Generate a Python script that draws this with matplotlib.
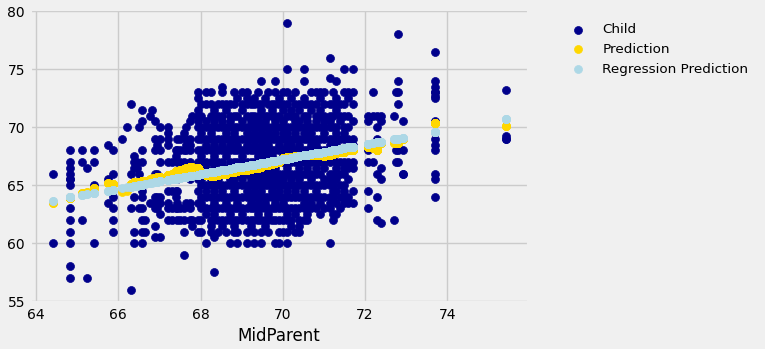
import matplotlib
matplotlib.use("Agg")
import matplotlib.pyplot as plt

# Galton heights: midparent height per family column, children heights
midparent = [64.4, 64.83, 65.12, 65.24, 65.4, 65.75, 65.87, 66.1, 66.2, 66.3,
             66.38, 66.45, 66.5, 66.57, 66.65, 66.76, 66.82, 66.9, 66.95, 67.02,
             67.2, 67.3, 67.4, 67.43, 67.5, 67.6, 67.65, 67.75, 67.8, 67.94,
             68.02, 68.14, 68.25, 68.33, 68.42, 68.53, 68.62, 68.72, 68.82, 68.9,
             69.0, 69.13, 69.22, 69.3, 69.4, 69.47, 69.56, 69.65, 69.73, 69.82,
             69.9, 70.0, 70.1, 70.2, 70.3, 70.4, 70.52, 70.6, 70.7, 70.8,
             70.9, 71.0, 71.15, 71.22, 71.3, 71.4, 71.5, 71.6, 71.7,
             72.08, 72.2, 72.3, 72.4, 72.7, 72.75, 72.8, 72.92, 73.7, 75.43]

child_heights = [
    [66, 60],
    [68, 67, 66.5, 66, 65.5, 65.5, 65, 63, 62, 61, 60, 58, 57],
    [68, 67, 62],
    [66.5, 57],
    [68, 67, 65, 60],
    [68.5, 65.5, 63.5],
    [68, 66, 64, 63, 62, 61],
    [69],
    [70],
    [72, 66, 63, 56],
    [67.5, 67, 66.5, 64, 61, 60],
    [67, 66.5],
    [70, 66, 63],
    [71.5, 70.5, 68, 67, 64.5, 64, 63, 62, 61, 60],
    [62, 61],
    [71, 63.5],
    [71.5],
    [70.5, 69, 68, 66, 64, 63.5, 63, 61.5, 60.5],
    [68.5, 66, 64, 63],
    [70, 69, 68, 67, 64, 63.5, 62.5, 60.5],
    [70, 69.5, 69, 68.5, 67, 65.5, 64.5, 63.5, 63, 62],
    [67, 64.5, 63, 62],
    [68, 67.5, 64.5, 64, 63],
    [69, 68, 67, 65.5, 64.5, 63.5, 63, 62],
    [69, 68, 67, 63, 62],
    [69.5, 68, 67, 63, 62, 61, 59],
    [70, 69, 68.5, 68, 63.5],
    [70.5, 69, 68.5, 68, 67, 65.5, 63.5, 63, 62],
    [71, 62, 61.5],
    [73, 72.5, 71.5, 71, 70.5, 70, 69, 68, 67, 65.5, 64.5, 63.5, 62, 61],
    [72, 71, 70, 69.5, 69, 68, 67.5, 67, 66, 65.5, 65, 64, 63.5, 63, 62, 61],
    [73, 72, 70.5, 70, 69, 68.5, 68, 67, 66.5, 66, 65, 64.5, 64, 63, 62.5, 60],
    [73, 72, 71, 70, 69.5, 69, 68, 67, 66, 65.5, 65, 64, 63, 62, 61.5, 61],
    [71.5, 70.5, 70, 69, 68.5, 67.5, 67, 66.5, 66, 65, 64.5, 63.5, 62.5, 62, 60.5, 57.5],
    [72, 71, 70, 69, 68, 67, 66, 65.5, 65, 64, 63, 62, 61],
    [73.5, 73, 72, 71, 70.5, 70, 69, 68.5, 68, 67, 66, 65, 64.5, 64, 63, 62, 61.5],
    [72, 71.5, 70, 69.5, 69, 68, 67.5, 66.5, 66, 65, 64, 63.5, 63, 62, 61],
    [72, 71, 70.5, 70, 69, 68.5, 68, 67, 66, 65.5, 65, 64, 63, 62.5, 62, 60],
    [73, 72, 71, 70, 69.5, 69, 68, 67, 66.5, 65.5, 65, 64.5, 64, 63, 62, 61.5, 61],
    [72.5, 71, 70, 69, 68.5, 68, 67, 66, 65, 64, 63.5, 63, 62, 61, 60],
    [73, 72, 71.5, 70.5, 70, 69, 68, 67.5, 67, 66, 65.5, 65, 64, 63, 62.5, 62],
    [73, 72.5, 72, 71, 70, 69.5, 69, 68.5, 68, 67, 66.5, 66, 65, 64.5, 64, 63, 62, 61, 60],
    [72, 71, 70.5, 70, 69, 68, 67, 66, 65.5, 65, 64, 63.5, 63, 62, 61.5],
    [72.5, 72, 71, 70, 69.5, 69, 68.5, 68, 67, 66.5, 66, 65, 64.5, 64, 63, 62, 61, 60],
    [73, 72, 71, 70.5, 70, 69, 68, 67.5, 67, 66, 65.5, 65, 64, 63.5, 63, 62.5, 62],
    [74, 72, 71.5, 70, 69.5, 69, 68.5, 68, 67, 66, 65.5, 65, 64.5, 64, 63, 62, 61, 60],
    [72.5, 71, 70.5, 70, 69, 68, 67.5, 67, 66.5, 66, 65, 64, 63.5, 63, 62, 61.5],
    [73, 72, 71, 70, 69.5, 69, 68.5, 68, 67, 66.5, 65.5, 65, 64, 63, 62.5, 62, 61],
    [72, 71.5, 71, 70, 69, 68, 67.5, 67, 66, 65.5, 65, 64.5, 64, 63, 62],
    [74, 73, 72, 71, 70.5, 70, 69.5, 69, 68, 67, 66.5, 66, 65, 64, 63.5, 63, 62, 60],
    [72.5, 72, 71, 70, 69, 68.5, 68, 67, 66, 65.5, 65, 64.5, 64, 63, 62, 61, 60],
    [73, 72, 71.5, 70.5, 70, 69.5, 69, 68, 67.5, 67, 66, 65.5, 65, 64, 63.5, 63, 62, 61],
    [79, 75, 73, 72, 71, 70, 69.5, 69, 68.5, 68, 67, 66.5, 66, 65, 64.5, 64, 63, 62.5, 62, 61, 60],
    [72.5, 71.5, 71, 70, 69, 68.5, 68, 67, 66, 65.5, 65, 64, 63, 62, 61.5],
    [73, 72, 71, 70.5, 70, 69.5, 69, 68, 67.5, 67, 66, 65, 64.5, 64, 63, 62.5, 61],
    [72, 71.5, 70.5, 70, 69, 68.5, 68, 67, 66.5, 66, 65.5, 65, 64, 63, 62, 61.5, 61],
    [75, 74, 72.5, 72, 71, 70, 69.5, 69, 68, 67.5, 67, 66, 65, 64.5, 64, 63.5, 63, 62],
    [72, 71, 70.5, 70, 69, 68, 67, 66.5, 66, 65, 64, 63, 62.5, 62],
    [73, 72, 71.5, 70, 69.5, 69, 68.5, 68, 67, 66, 65.5, 65, 64, 63.5, 63],
    [73, 72, 71, 70.5, 70, 69, 68.5, 68, 67, 66.5, 66, 65, 64.5, 64, 63],
    [73, 72.5, 71.5, 71, 70, 69, 68, 67.5, 67, 66, 65, 64, 63.5, 62.5],
    [73, 72, 71, 70.5, 70, 69.5, 69, 68, 67, 66.5, 65.5, 65, 64, 63],
    [76, 74.2, 72, 71, 70.5, 70, 69, 68.5, 68, 67, 66, 65.5, 65, 64, 63.5, 63, 60],
    [73, 72, 71, 70, 69, 68, 67.5, 66, 65, 64.5, 64, 62.5, 62],
    [74, 72.5, 71.5, 70, 69.5, 68.5, 68, 67, 66.5, 65.5, 64.5, 63.5, 62.5],
    [72, 71, 70.5, 69, 68, 67, 66, 65, 64, 63],
    [75, 73, 72, 71, 70, 69.5, 69, 68, 67, 66.5, 66, 65, 64.5, 64, 63.5],
    [73, 72.5, 71, 70, 69, 68, 67, 66.5, 65.5, 64, 63.5],
    [75, 73, 72, 70.5, 69, 68.5, 67, 66.5, 64.5, 63.5],
    [71, 70.5, 68, 67, 64.5, 63],
    [73, 71, 67],
    [71, 70, 69, 68, 66, 64, 62],
    [71, 70.5, 66.5, 65.5, 61.7],
    [71, 62],
    [73, 69, 68, 67],
    [78, 74, 73, 72, 68, 67],
    [70.5, 68, 66, 66],
    [76.5, 74, 73.5, 73, 73, 72.7, 72.5, 70.5, 69, 68.5, 68, 66, 65.5, 64],
    [73.2, 69.2, 69, 69],
]

# gold dots: average child height of families with nearby midparent
prediction = [63.5, 63.9, 64.3, 64.4, 64.8, 65.2, 65.1, 64.4, 64.5, 65.1,
              65.3, 65.3, 65.3, 65.4, 65.4, 65.5, 65.6, 65.6, 65.7, 65.7,
              65.9, 66.0, 66.2, 66.2, 66.3, 66.4, 66.5, 66.6, 66.6, 66.5,
              66.1, 65.9, 65.8, 65.8, 65.9, 66.0, 66.0, 66.1, 66.1, 66.2,
              66.3, 66.3, 66.4, 66.5, 66.5, 66.6, 66.7, 66.7, 66.8, 66.9,
              67.0, 67.3, 67.4, 67.4, 67.5, 67.5, 67.6, 67.6, 67.6, 67.6,
              67.6, 67.5, 67.6, 67.7, 67.8, 67.9, 67.9, 68.0, 68.0,
              68.3, 68.2, 68.0, 68.6, 68.6, 68.6, 68.6, 69.0, 70.4, 70.1]

# light blue dots: regression line prediction
regression = [63.66, 63.94, 64.12, 64.20, 64.30, 64.52, 64.60, 64.75, 64.81, 64.87,
              64.93, 64.97, 65.00, 65.05, 65.10, 65.17, 65.21, 65.26, 65.29, 65.33,
              65.45, 65.51, 65.57, 65.59, 65.64, 65.70, 65.73, 65.80, 65.83, 65.92,
              65.97, 66.05, 66.12, 66.17, 66.23, 66.30, 66.35, 66.42, 66.48, 66.53,
              66.59, 66.68, 66.73, 66.78, 66.85, 66.89, 66.95, 67.01, 67.06, 67.12,
              67.17, 67.23, 67.29, 67.36, 67.42, 67.48, 67.56, 67.61, 67.67, 67.74,
              67.80, 67.87, 67.96, 68.01, 68.06, 68.12, 68.19, 68.25, 68.31,
              68.55, 68.63, 68.70, 68.76, 68.95, 68.98, 69.01, 69.09, 69.59, 70.69]

# one row per child
xs = [m for m, kids in zip(midparent, child_heights) for _ in kids]
ys = [h for kids in child_heights for h in kids]
yp = [p for p, kids in zip(prediction, child_heights) for _ in kids]
yr = [r for r, kids in zip(regression, child_heights) for _ in kids]

plt.style.use("fivethirtyeight")
plt.rcParams["font.family"] = "DejaVu Sans"

fig = plt.figure(figsize=(7.65, 3.49), dpi=100)
ax = fig.add_axes([0.039, 0.132, 0.652, 0.841])

ax.scatter(xs, ys, s=33, color="darkblue", label="Child")
ax.scatter(xs, yp, s=33, color="gold", label="Prediction")
ax.scatter(xs, yr, s=33, color="lightblue", label="Regression Prediction")

ax.set_xlabel("MidParent", fontsize=12)
ax.tick_params(labelsize=10)
ax.legend(loc="upper left", bbox_to_anchor=(0.722, 0.968),
          bbox_transform=fig.transFigure, frameon=False, fontsize=9.7)

fig.savefig("out.png", dpi=100, facecolor="#f0f0f0")
